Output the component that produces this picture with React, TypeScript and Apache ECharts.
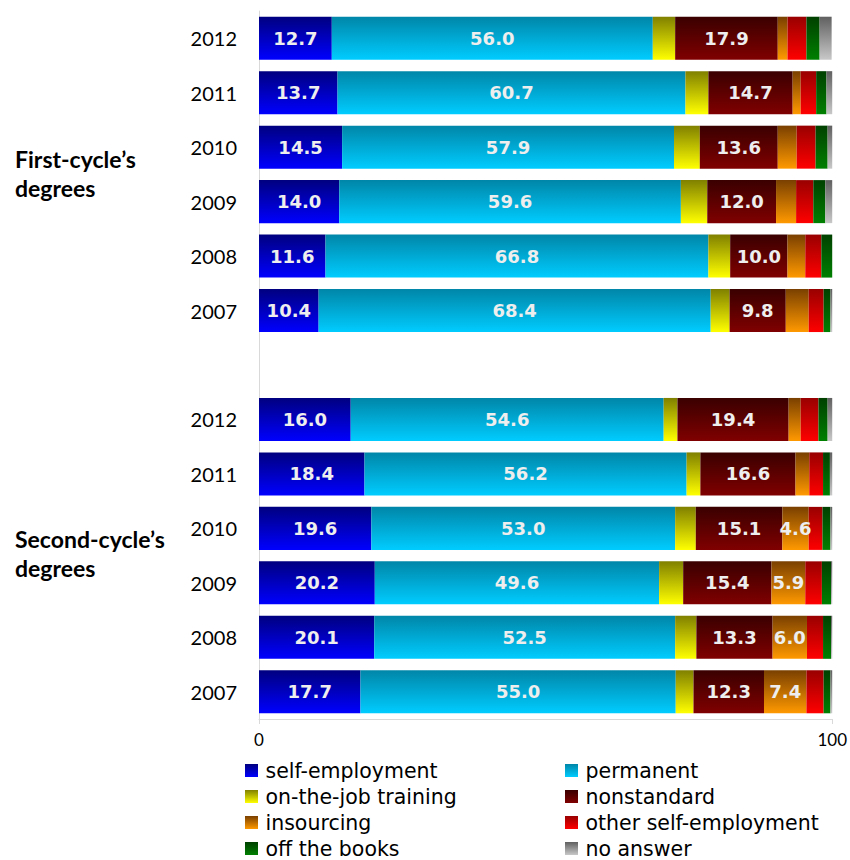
import React, { useEffect, useRef } from "react";
import * as echarts from "echarts";

// ---- data ----
const years = ["2012", "2011", "2010", "2009", "2008", "2007"];
const categories = [
  ...years.map((y) => "F" + y),
  "gap",
  ...years.map((y) => "S" + y),
];
const seriesNames = [
  "self-employment",
  "permanent",
  "on-the-job training",
  "nonstandard",
  "insourcing",
  "other self-employment",
  "off the books",
  "no answer",
];
// first-cycle (2012..2007), then gap, then second-cycle (2012..2007)
const selfEmployment = [12.7, 13.7, 14.5, 14.0, 11.6, 10.4, null, 16.0, 18.4, 19.6, 20.2, 20.1, 17.7];
const permanent = [56.0, 60.7, 57.9, 59.6, 66.8, 68.4, null, 54.6, 56.2, 53.0, 49.6, 52.5, 55.0];
const onTheJob = [3.9, 4.0, 4.5, 4.6, 3.8, 3.3, null, 2.4, 2.4, 3.6, 4.2, 3.7, 3.1];
const nonstandard = [17.9, 14.7, 13.6, 12.0, 10.0, 9.8, null, 19.4, 16.6, 15.1, 15.4, 13.3, 12.3];
const insourcing = [1.7, 1.4, 3.3, 3.5, 3.1, 4.0, null, 2.1, 2.4, 4.6, 5.9, 6.0, 7.4];
const otherSelf = [3.3, 2.7, 3.3, 3.0, 2.8, 2.6, null, 3.1, 2.4, 2.4, 2.9, 2.8, 3.0];
const offBooks = [2.3, 1.8, 2.1, 2.1, 1.9, 1.2, null, 1.6, 1.2, 1.4, 1.6, 1.4, 1.2];
const noAnswer = [2.1, 1.0, 0.8, 1.2, 0.2, 0.3, null, 0.9, 0.5, 0.3, 0.3, 0.2, 0.3];
const seriesValues = [selfEmployment, permanent, onTheJob, nonstandard, insourcing, otherSelf, offBooks, noAnswer];
const xTicks = [0, 100];

const colorPairs: [string, string][] = [
  ["#000080", "#0000ff"],
  ["#0086a8", "#00ccff"],
  ["#808000", "#ffff00"],
  ["#3a0000", "#800000"],
  ["#7a4000", "#ff9900"],
  ["#990000", "#ff0000"],
  ["#004000", "#008000"],
  ["#606060", "#c8c8c8"],
];
// minimum value for which a label is drawn (Infinity = never)
const labelMin = [0, 0, Infinity, 0, 4.5, Infinity, Infinity, Infinity];

export default function App() {
  const ref = useRef<HTMLDivElement>(null);
  useEffect(() => {
    if (!ref.current) return;
    const chart = echarts.init(ref.current, undefined, { renderer: "svg" });
    const series = seriesNames.map((name, i) => ({
      name,
      type: "bar",
      stack: "total",
      barCategoryGap: "21%",
      data: seriesValues[i],
      itemStyle: {
        color: new echarts.graphic.LinearGradient(0, 0, 0, 1, [
          { offset: 0, color: colorPairs[i][0] },
          { offset: 1, color: colorPairs[i][1] },
        ]),
      },
      label: {
        show: labelMin[i] !== Infinity,
        position: "inside",
        color: "#eeeeee",
        fontFamily: "DejaVu Sans",
        fontWeight: "bold",
        fontSize: 18,
        formatter: (p: any) =>
          p.value != null && p.value >= labelMin[i] ? Number(p.value).toFixed(1) : "",
      },
    }));
    const legendText = {
      fontFamily: "DejaVu Sans",
      fontSize: 20.5,
      color: "#000",
      padding: [0, 0, 0, 2.5],
    };
    // one legend per item: even index -> left column, odd -> right column
    const legends = seriesNames.map((name, i) => ({
      orient: "horizontal",
      left: i % 2 === 0 ? 245 : 565,
      top: 760 + Math.floor(i / 2) * 26,
      itemWidth: 13,
      itemHeight: 13,
      icon: "rect",
      padding: 0,
      data: [name],
      textStyle: legendText,
      selectedMode: false,
    }));
    const titleStyle = {
      fontFamily: "Lato",
      fontWeight: "bold",
      fontSize: 23,
      lineHeight: 29,
      fill: "#000",
    };
    chart.setOption({
      animation: false,
      grid: { left: 259, right: 15, top: 11, bottom: 141 },
      xAxis: {
        type: "value",
        min: xTicks[0],
        max: xTicks[1],
        interval: 100,
        splitLine: { show: false },
        axisLine: { show: true, lineStyle: { color: "#d9d9d9" } },
        axisTick: { show: true, length: 5, lineStyle: { color: "#d9d9d9" } },
        axisLabel: { fontFamily: "Lato", fontSize: 17, color: "#000", margin: 12 },
      },
      yAxis: {
        type: "category",
        inverse: true,
        data: categories,
        axisLine: { show: true, lineStyle: { color: "#d9d9d9" } },
        axisTick: { show: false },
        axisLabel: {
          fontFamily: "Lato",
          fontSize: 20,
          color: "#000",
          margin: 22,
          formatter: (v: string) => (v === "gap" ? "" : v.slice(1)),
        },
      },
      legend: legends,
      graphic: [
        {
          type: "text",
          left: 15,
          top: 144,
          style: { text: "First-cycle\u2019s\ndegrees", ...titleStyle },
        },
        {
          type: "text",
          left: 15,
          top: 524,
          style: { text: "Second-cycle\u2019s\ndegrees", ...titleStyle },
        },
      ],
      series,
    });
    return () => chart.dispose();
  }, []);
  return (
    <div
      ref={ref}
      style={{ position: "absolute", left: 0, top: 0, width: 850, height: 860 }}
    />
  );
}
